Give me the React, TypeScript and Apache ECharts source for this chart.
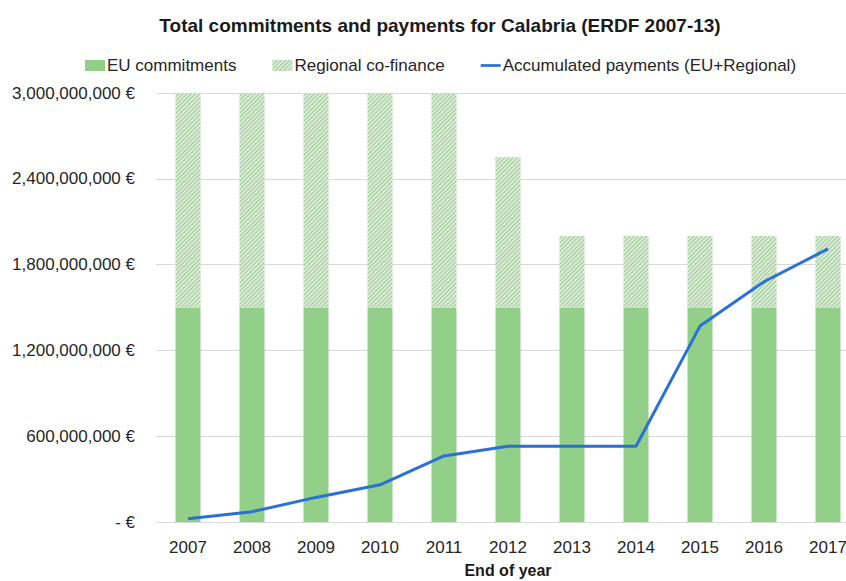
import React, { useEffect, useRef } from "react";
import * as echarts from "echarts";

const years = ["2007", "2008", "2009", "2010", "2011", "2012", "2013", "2014", "2015", "2016", "2017"];
const euCommitments = [1.5e9, 1.5e9, 1.5e9, 1.5e9, 1.5e9, 1.5e9, 1.5e9, 1.5e9, 1.5e9, 1.5e9, 1.5e9];
const regionalCofinance = [1.5e9, 1.5e9, 1.5e9, 1.5e9, 1.5e9, 1.05e9, 0.5e9, 0.5e9, 0.5e9, 0.5e9, 0.5e9];
const accumulatedPayments = [22e6, 72e6, 172e6, 260e6, 462e6, 530e6, 530e6, 530e6, 1.37e9, 1.68e9, 1.91e9];

const FONT = "'Liberation Sans', Arial, sans-serif";

function fmt(v: number): string {
  if (v === 0) return "- €";
  return v.toLocaleString("en-US") + " €";
}

export default function App() {
  const ref = useRef<HTMLDivElement>(null);
  useEffect(() => {
    document.body.style.margin = "0";
    if (!ref.current) return;
    const chart = echarts.init(ref.current, null, { renderer: "svg" });
    chart.setOption({
      animation: false,
      textStyle: { fontFamily: FONT },
      title: {
        text: "Total commitments and payments for Calabria (ERDF 2007-13)",
        left: 435,
        textAlign: "center",
        top: 11,
        textStyle: { fontFamily: FONT, fontSize: 19, fontWeight: "bold", color: "#1a1a1a" },
      },
      legend: {
        top: 52,
        left: 80,
        itemGap: 36,
        itemWidth: 20,
        itemHeight: 11,
        textStyle: { fontFamily: FONT, fontSize: 17, color: "#262626", padding: [0, 0, 0, -3] },
        data: [
          { name: "EU commitments", icon: "rect" },
          { name: "Regional co-finance", icon: "rect" },
          { name: "Accumulated payments (EU+Regional)", icon: "path://M0,0H22V3H0Z" },
        ],
      },
      grid: { left: 156, right: 0, top: 93, bottom: 59, containLabel: false, outerBoundsMode: "none" },
      xAxis: {
        type: "category",
        data: years,
        axisLine: { lineStyle: { color: "#d9d9d9", width: 1 } },
        axisTick: { show: false },
        axisLabel: { fontFamily: FONT, fontSize: 17, color: "#262626", margin: 17 },
        name: "End of year",
        nameLocation: "middle",
        nameGap: 40,
        nameTextStyle: { fontFamily: FONT, fontSize: 16, fontWeight: "bold", color: "#1a1a1a" },
      },
      yAxis: {
        type: "value",
        min: 0,
        max: 3e9,
        interval: 6e8,
        axisLine: { show: false },
        axisTick: { show: false },
        splitLine: { lineStyle: { color: "#d9d9d9", width: 1 } },
        axisLabel: { fontFamily: FONT, fontSize: 17, color: "#262626", margin: 21, formatter: fmt },
      },
      series: [
        {
          name: "EU commitments",
          type: "bar",
          stack: "total",
          barWidth: 25,
          data: euCommitments,
          itemStyle: { color: "#92cf88" },
        },
        {
          name: "Regional co-finance",
          type: "bar",
          stack: "total",
          barWidth: 25,
          data: regionalCofinance,
          itemStyle: {
            color: "#dcecd8",
            decal: {
              symbol: "rect",
              symbolSize: 1,
              dashArrayX: [[4, 0]],
              dashArrayY: [1, 1.2],
              rotation: -Math.PI / 4,
              color: "#9cc994",
            },
          },
        },
        {
          name: "Accumulated payments (EU+Regional)",
          type: "line",
          data: accumulatedPayments,
          symbol: "none",
          lineStyle: { color: "#2a70d6", width: 3 },
          itemStyle: { color: "#2a70d6" },
          z: 5,
        },
      ],
    });
    return () => chart.dispose();
  }, []);
  return (
    <div style={{ width: 846, height: 581, overflow: "hidden", position: "relative" }}>
      <div ref={ref} style={{ width: 860, height: 581, position: "absolute", left: 0, top: 0 }} />
    </div>
  );
}
